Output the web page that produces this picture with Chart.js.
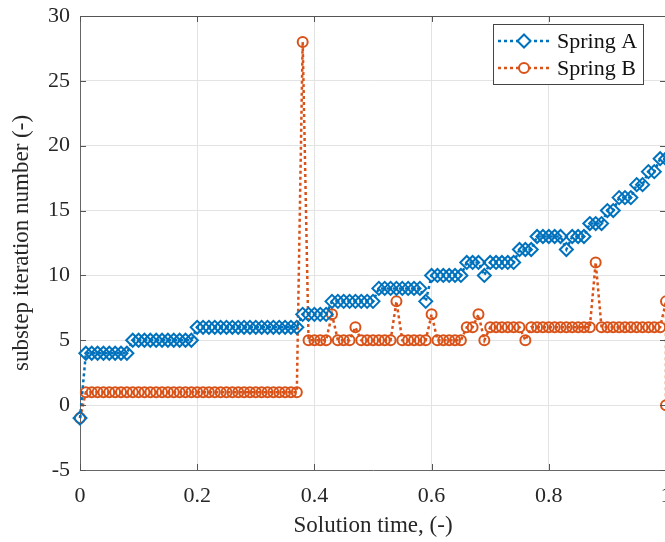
<!DOCTYPE html>
<html>
<head>
<meta charset="utf-8">
<script src="https://cdn.jsdelivr.net/npm/chart.js@4/dist/chart.umd.min.js"></script>
<style>
  html, body { margin: 0; padding: 0; background: #fff; overflow: hidden; }
  #wrap { width: 665px; height: 542px; overflow: hidden; }
</style>
</head>
<body>
<div id="wrap"><canvas id="subChart" width="680" height="542"></canvas></div>
<script>
// solution time (-)
const time = [
  0.00, 0.01, 0.02, 0.03, 0.04, 0.05, 0.06, 0.07, 0.08, 0.09,
  0.10, 0.11, 0.12, 0.13, 0.14, 0.15, 0.16, 0.17, 0.18, 0.19,
  0.20, 0.21, 0.22, 0.23, 0.24, 0.25, 0.26, 0.27, 0.28, 0.29,
  0.30, 0.31, 0.32, 0.33, 0.34, 0.35, 0.36, 0.37, 0.38, 0.39,
  0.40, 0.41, 0.42, 0.43, 0.44, 0.45, 0.46, 0.47, 0.48, 0.49,
  0.50, 0.51, 0.52, 0.53, 0.54, 0.55, 0.56, 0.57, 0.58, 0.59,
  0.60, 0.61, 0.62, 0.63, 0.64, 0.65, 0.66, 0.67, 0.68, 0.69,
  0.70, 0.71, 0.72, 0.73, 0.74, 0.75, 0.76, 0.77, 0.78, 0.79,
  0.80, 0.81, 0.82, 0.83, 0.84, 0.85, 0.86, 0.87, 0.88, 0.89,
  0.90, 0.91, 0.92, 0.93, 0.94, 0.95, 0.96, 0.97, 0.98, 0.99,
  1.00
];

const springA = [
  -1, 4, 4, 4, 4, 4, 4, 4, 4, 5,
  5, 5, 5, 5, 5, 5, 5, 5, 5, 5,
  6, 6, 6, 6, 6, 6, 6, 6, 6, 6,
  6, 6, 6, 6, 6, 6, 6, 6, 7, 7,
  7, 7, 7, 8, 8, 8, 8, 8, 8, 8,
  8, 9, 9, 9, 9, 9, 9, 9, 9, 8,
  10, 10, 10, 10, 10, 10, 11, 11, 11, 10,
  11, 11, 11, 11, 11, 12, 12, 12, 13, 13,
  13, 13, 13, 12, 13, 13, 13, 14, 14, 14,
  15, 15, 16, 16, 16, 17, 17, 18, 18, 19,
  19
];

const springB = [
  -1, 1, 1, 1, 1, 1, 1, 1, 1, 1,
  1, 1, 1, 1, 1, 1, 1, 1, 1, 1,
  1, 1, 1, 1, 1, 1, 1, 1, 1, 1,
  1, 1, 1, 1, 1, 1, 1, 1, 28, 5,
  5, 5, 5, 7, 5, 5, 5, 6, 5, 5,
  5, 5, 5, 5, 8, 5, 5, 5, 5, 5,
  7, 5, 5, 5, 5, 5, 6, 6, 7, 5,
  6, 6, 6, 6, 6, 6, 5, 6, 6, 6,
  6, 6, 6, 6, 6, 6, 6, 6, 11, 6,
  6, 6, 6, 6, 6, 6, 6, 6, 6, 6,
  8
];
// one extra sample at the very end of spring B
const springBEndTime = 1.00;
const springBEndValue = 0;

const xTicks = [0, 0.2, 0.4, 0.6, 0.8, 1];
const yTicks = [-5, 0, 5, 10, 15, 20, 25, 30];

const blue = '#0072BD';
const orange = '#D95319';
const serif = "'Liberation Serif', 'Times New Roman', serif";

const ptsA = time.map((t, i) => ({ x: t, y: springA[i] }));
const ptsB = time.map((t, i) => ({ x: t, y: springB[i] }));
ptsB.push({ x: springBEndTime, y: springBEndValue });

// matlab style box with inward ticks
const boxPlugin = {
    id: 'boxTicks',
    afterDatasetsDraw(chart) {
        const { ctx, chartArea: a, scales } = chart;
        ctx.save();
        ctx.strokeStyle = '#555';
        ctx.lineWidth = 1;
        ctx.beginPath();
        ctx.moveTo(a.left, a.top + 0.5);
        ctx.lineTo(a.right, a.top + 0.5);
        xTicks.forEach(v => {
            const px = Math.round(scales.x.getPixelForValue(v)) + 0.5;
            ctx.moveTo(px, a.bottom); ctx.lineTo(px, a.bottom - 6);
            ctx.moveTo(px, a.top); ctx.lineTo(px, a.top + 6);
        });
        yTicks.forEach(v => {
            const py = Math.round(scales.y.getPixelForValue(v)) + 0.5;
            ctx.moveTo(a.left, py); ctx.lineTo(a.left + 6, py);
            ctx.moveTo(a.right, py); ctx.lineTo(a.right - 6, py);
        });
        ctx.stroke();
        ctx.restore();
    },
    afterDraw(chart) {
        // legend box, top right inside the axes
        const ctx = chart.ctx;
        const bx = 493, by = 24, bw = 150, bh = 60;
        ctx.save();
        ctx.fillStyle = '#fff';
        ctx.fillRect(bx, by, bw, bh);
        ctx.strokeStyle = '#444';
        ctx.lineWidth = 1;
        ctx.strokeRect(bx + 0.5, by + 0.5, bw, bh);
        chart.data.datasets.forEach((ds, i) => {
            const y = by + 17 + i * 27;
            ctx.strokeStyle = ds.borderColor;
            ctx.lineWidth = ds.borderWidth;
            ctx.setLineDash(ds.borderDash);
            ctx.beginPath();
            ctx.moveTo(bx + 5, y);
            ctx.lineTo(bx + 58, y);
            ctx.stroke();
            ctx.setLineDash([]);
            ctx.lineWidth = ds.pointBorderWidth;
            ctx.fillStyle = '#fff';
            ctx.beginPath();
            const mx = bx + 31, r = ds.pointRadius;
            if (ds.pointStyle === 'rectRot') {
                ctx.moveTo(mx, y - r); ctx.lineTo(mx + r, y);
                ctx.lineTo(mx, y + r); ctx.lineTo(mx - r, y);
                ctx.closePath();
            } else {
                ctx.arc(mx, y, r, 0, Math.PI * 2);
            }
            ctx.fill();
            ctx.stroke();
            ctx.fillStyle = '#111';
            ctx.font = '22px ' + serif;
            ctx.textBaseline = 'middle';
            ctx.fillText(ds.label, bx + 64, y + 1);
        });
        ctx.restore();
    }
};

const chartCtx = document.getElementById('subChart').getContext('2d');
const subChart = new Chart(chartCtx, {
    type: 'line',
    data: {
        datasets: [{
            label: 'Spring A',
            data: ptsA,
            borderColor: blue,
            borderWidth: 2.5,
            borderDash: [3, 3],
            pointStyle: 'rectRot',
            pointRadius: 6.5,
            pointBorderWidth: 2,
            pointBorderColor: blue,
            pointBackgroundColor: 'rgba(255,255,255,0)',
            tension: 0,
            clip: false
        }, {
            label: 'Spring B',
            data: ptsB,
            borderColor: orange,
            borderWidth: 2.5,
            borderDash: [3, 3],
            pointStyle: 'circle',
            pointRadius: 5,
            pointBorderWidth: 2,
            pointBorderColor: orange,
            pointBackgroundColor: 'rgba(255,255,255,0)',
            tension: 0,
            clip: false
        }]
    },
    options: {
        responsive: false,
        animation: false,
        layout: { padding: { top: 16, right: 14, left: 0, bottom: 0 } },
        plugins: { legend: { display: false }, tooltip: { enabled: false } },
        scales: {
            x: {
                type: 'linear',
                min: 0,
                max: 1,
                afterBuildTicks: s => { s.ticks = xTicks.map(v => ({ value: v })); },
                afterFit: s => { s.height = 72; s.paddingLeft = 0; s.paddingRight = 0; },
                ticks: {
                    font: { family: serif, size: 22 },
                    color: '#262626',
                    padding: 13,
                    maxRotation: 0,
                    callback: v => String(v)
                },
                grid: { color: '#e3e3e3', drawTicks: false },
                border: { display: true, color: '#666', width: 1 },
                title: {
                    display: true,
                    text: 'Solution time, (-)',
                    font: { family: serif, size: 23 },
                    color: '#262626',
                    padding: { top: 0, bottom: 2 }
                }
            },
            y: {
                min: -5,
                max: 30,
                afterBuildTicks: s => { s.ticks = yTicks.map(v => ({ value: v })); },
                afterFit: s => { s.width = 80; s.paddingTop = 0; s.paddingBottom = 0; },
                ticks: {
                    font: { family: serif, size: 22 },
                    color: '#262626',
                    padding: 10,
                    callback: v => String(v)
                },
                grid: { color: '#e3e3e3', drawTicks: false },
                border: { display: true, color: '#666', width: 1 },
                title: {
                    display: true,
                    text: 'substep iteration number (-)',
                    font: { family: serif, size: 23 },
                    color: '#262626',
                    padding: { top: 8, bottom: 0 }
                }
            }
        }
    },
    plugins: [boxPlugin]
});
</script>
</body>
</html>
